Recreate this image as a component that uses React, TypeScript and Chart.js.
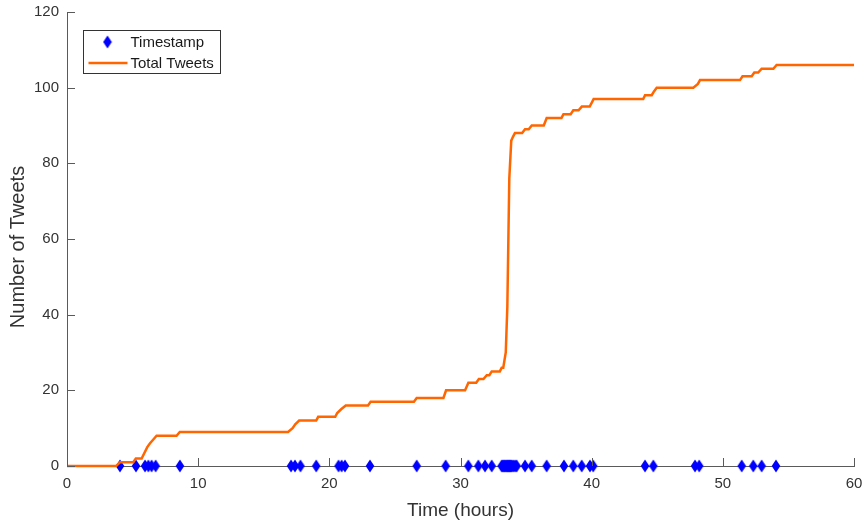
import React, { useEffect, useRef } from 'react';
import { Chart, registerables } from 'chart.js';

Chart.register(...registerables);

// ---- data ----
const timestampHours = [
  4.04, 5.26, 5.95, 6.2, 6.45, 6.76, 8.61,
  17.08, 17.38, 17.8, 19.0, 20.7, 20.94, 21.19, 23.1, 26.66, 28.87,
  30.6, 31.36, 31.87, 32.38,
  33.14, 33.2, 33.26, 33.32, 33.38, 33.44, 33.5, 33.55, 33.6, 33.65, 33.7,
  33.75, 33.8, 33.85, 33.9, 34.0, 34.1, 34.2, 34.28,
  34.92, 35.43, 36.57, 37.89, 38.6, 39.24, 39.87, 40.12,
  44.07, 44.7, 47.88, 48.2, 51.44, 52.32, 52.96, 54.05,
];

const curveHours = [
  0, 3.75, 4.05, 5.05, 5.25, 5.69, 6.12, 6.33, 6.58, 6.83, 8.35, 8.6,
  16.85, 17.2, 17.4, 17.7, 19.0, 19.15, 20.45, 20.6, 20.9, 21.25, 22.95, 23.15,
  26.45, 26.66, 28.7, 28.9, 30.35, 30.6, 31.2, 31.4, 31.75, 32.0, 32.2, 32.38,
  33.0, 33.14, 33.26, 33.45, 33.57, 33.72, 33.87, 34.0, 34.15, 34.7, 34.92,
  35.2, 35.43, 36.35, 36.57, 37.7, 37.85, 38.4, 38.6, 39.0, 39.25, 39.85,
  40.0, 40.15, 43.93, 44.07, 44.58, 44.75, 44.96, 47.75, 48.1, 48.26, 51.31,
  51.5, 52.2, 52.4, 52.7, 52.96, 53.85, 54.1, 60,
];
const curveCounts = [
  0, 0, 1, 1, 2, 2, 5, 6, 7, 8, 8, 9,
  9, 10, 11, 12, 12, 13, 13, 14, 15, 16, 16, 17,
  17, 18, 18, 20, 20, 22, 22, 23, 23, 24, 24, 25,
  25, 26, 26, 30, 42, 76, 86, 87, 88, 88, 89,
  89, 90, 90, 92, 92, 93, 93, 94, 94, 95, 95,
  96, 97, 97, 98, 98, 99, 100, 100, 101, 102, 102,
  103, 103, 104, 104, 105, 105, 106, 106,
];

const xTickValues = [0, 10, 20, 30, 40, 50, 60];
const yTickValues = [0, 20, 40, 60, 80, 100, 120];
const xTitle = 'Time (hours)';
const yTitle = 'Number of Tweets';
const seriesNames = ['Timestamp', 'Total Tweets'];

// ---- styles ----
const BLUE = '#0000FF';
const ORANGE = '#FF6600';
const AXIS = '#5a5a5a';
const TEXT = '#333333';
const FONT = "'Liberation Sans', Arial, sans-serif";

function makeDiamond(): HTMLCanvasElement {
  const c = document.createElement('canvas');
  c.width = 10;
  c.height = 14;
  const g = c.getContext('2d')!;
  g.fillStyle = BLUE;
  g.beginPath();
  g.moveTo(5, 0.5);
  g.lineTo(9.3, 7);
  g.lineTo(5, 13.5);
  g.lineTo(0.7, 7);
  g.closePath();
  g.fill();
  return c;
}

const innerTicks = {
  id: 'innerTicks',
  afterDatasetsDraw(chart: any) {
    const { ctx, scales } = chart;
    const xs = scales.x;
    const ys = scales.y;
    const len = 8;
    ctx.save();
    ctx.strokeStyle = AXIS;
    ctx.lineWidth = 1;
    ctx.beginPath();
    xTickValues.forEach((v) => {
      const px = Math.round(xs.getPixelForValue(v)) + 0.5;
      const base = ys.getPixelForValue(0);
      ctx.moveTo(px, base);
      ctx.lineTo(px, base - len);
    });
    yTickValues.forEach((v) => {
      const py = Math.round(ys.getPixelForValue(v)) + 0.5;
      const base = xs.getPixelForValue(0);
      ctx.moveTo(base, py);
      ctx.lineTo(base + len, py);
    });
    ctx.stroke();
    ctx.restore();
  },
};

const boxedLegend = {
  id: 'boxedLegend',
  afterDraw(chart: any) {
    const { ctx, chartArea } = chart;
    // y-axis title
    ctx.save();
    ctx.fillStyle = TEXT;
    ctx.font = `20px ${FONT}`;
    ctx.textAlign = 'center';
    ctx.textBaseline = 'middle';
    ctx.translate(18, (chartArea.top + chartArea.bottom) / 2 + 8);
    ctx.rotate(-Math.PI / 2);
    ctx.fillText(yTitle, 0, 0);
    ctx.restore();

    const left = chartArea.left + 16.5;
    const top = chartArea.top + 18.5;
    const w = 137;
    const h = 43;
    ctx.save();
    ctx.fillStyle = '#ffffff';
    ctx.fillRect(left, top, w, h);
    ctx.strokeStyle = '#333333';
    ctx.lineWidth = 1;
    ctx.strokeRect(left, top, w, h);
    const d = makeDiamond();
    ctx.drawImage(d, left + 24 - d.width / 2, top + 11.5 - d.height / 2);
    ctx.strokeStyle = ORANGE;
    ctx.lineWidth = 2.5;
    ctx.beginPath();
    ctx.moveTo(left + 5, top + 32.5);
    ctx.lineTo(left + 44, top + 32.5);
    ctx.stroke();
    ctx.fillStyle = '#1a1a1a';
    ctx.font = `15px ${FONT}`;
    ctx.textAlign = 'left';
    ctx.textBaseline = 'middle';
    ctx.fillText(seriesNames[0], left + 47, top + 12);
    ctx.fillText(seriesNames[1], left + 47, top + 33);
    ctx.restore();
  },
};

export default function App() {
  const ref = useRef<HTMLCanvasElement | null>(null);

  useEffect(() => {
    if (!ref.current) return;
    const diamond = makeDiamond();
    const chart = new Chart(ref.current, {
      type: 'scatter',
      data: {
        datasets: [
          {
            label: seriesNames[1],
            data: curveHours.map((h, i) => ({ x: h, y: curveCounts[i] })),
            showLine: true,
            borderColor: ORANGE,
            backgroundColor: ORANGE,
            borderWidth: 2.5,
            pointRadius: 0,
            pointHoverRadius: 0,
            tension: 0,
            clip: false,
            order: 0,
          } as any,
          {
            label: seriesNames[0],
            data: timestampHours.map((h) => ({ x: h, y: 0 })),
            pointStyle: diamond,
            pointRadius: 5,
            backgroundColor: BLUE,
            borderColor: BLUE,
            clip: false,
            order: 1,
          } as any,
        ],
      },
      options: {
        responsive: false,
        animation: false,
        devicePixelRatio: 1,
        layout: { padding: { top: 12, right: 12, left: 0, bottom: 0 } },
        plugins: {
          legend: { display: false },
          tooltip: { enabled: false },
        },
        events: [],
        scales: {
          x: {
            type: 'linear',
            min: 0,
            max: 60,
            afterBuildTicks: (s: any) => {
              s.ticks = xTickValues.map((v) => ({ value: v }));
            },
            afterFit: (s: any) => {
              s.height = 59;
              s.paddingLeft = 0;
              s.paddingRight = 0;
            },
            grid: { display: false, drawTicks: false },
            border: { display: true, color: AXIS, width: 1 },
            ticks: {
              color: TEXT,
              padding: 9,
              maxRotation: 0,
              font: { family: FONT, size: 15 },
            },
            title: {
              display: true,
              text: xTitle,
              color: TEXT,
              font: { family: FONT, size: 19 },
              padding: { top: 0, bottom: 3 },
            },
          },
          y: {
            type: 'linear',
            min: 0,
            max: 120,
            afterBuildTicks: (s: any) => {
              s.ticks = yTickValues.map((v) => ({ value: v }));
            },
            afterFit: (s: any) => {
              s.width = 67;
              s.paddingTop = 0;
              s.paddingBottom = 0;
            },
            grid: { display: false, drawTicks: false },
            border: { display: true, color: AXIS, width: 1 },
            ticks: {
              color: TEXT,
              padding: 8,
              font: { family: FONT, size: 15 },
            },
            title: { display: false },
          },
        },
      },
      plugins: [innerTicks, boxedLegend],
    });
    return () => chart.destroy();
  }, []);

  return (
    <div style={{ position: 'absolute', left: 0, top: 0, width: 866, height: 525, background: '#fff' }}>
      <canvas ref={ref} width={866} height={525} style={{ display: 'block' }} />
    </div>
  );
}
